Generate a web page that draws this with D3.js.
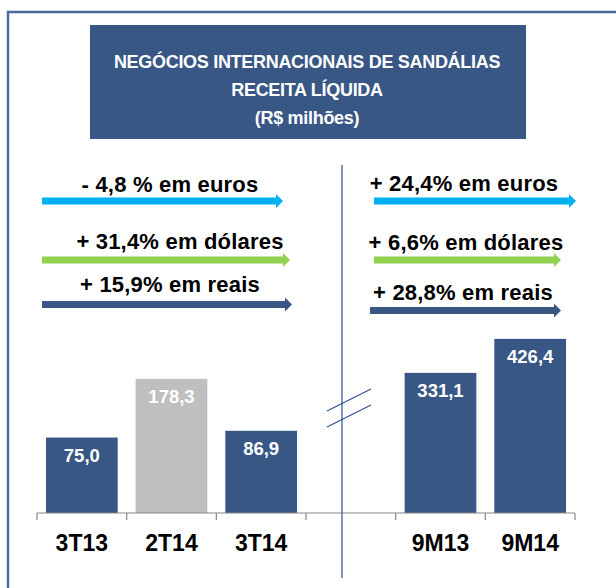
<!doctype html>
<html>
<head>
<meta charset="utf-8">
<script src="https://d3js.org/d3.v7.min.js"></script>
<style>
  body { margin: 0; background: #fff; }
  text { font-family: "Liberation Sans", Arial, sans-serif; font-weight: bold; }
</style>
</head>
<body>
<svg width="616" height="588" id="chart"></svg>
<script>
    // data
    var categories = ["3T13", "2T14", "3T14", "", "9M13", "9M14"];
    var quarterCats = ["3T13", "2T14", "3T14"];
    var quarterValues = [75.0, 178.3, 86.9];
    var ytdCats = ["9M13", "9M14"];
    var ytdValues = [331.1, 426.4];
    var titleLines = ["NEGÓCIOS INTERNACIONAIS DE SANDÁLIAS", "RECEITA LÍQUIDA", "(R$ milhões)"];
    var growthLeft = ["- 4,8 % em euros", "+ 31,4% em dólares", "+ 15,9% em reais"];
    var growthRight = ["+ 24,4% em euros", "+ 6,6% em dólares", "+ 28,8% em reais"];

    var navy = "#385785",
        grey = "#bfbfbf",
        arrowColors = ["#00b0f0", "#92d050", navy];

    var svg = d3.select("#chart");
    var baseY = 513;

    // frame
    svg.append("path")
       .attr("d", "M8,588 V12 H616")
       .attr("fill", "none")
       .attr("stroke", "#4a6a9c")
       .attr("stroke-width", 2.5);

    // title box
    svg.append("rect")
       .attr("x", 90).attr("y", 25)
       .attr("width", 436).attr("height", 114)
       .attr("fill", navy);

    svg.selectAll(".title")
       .data(titleLines)
       .enter().append("text")
       .attr("class", "title")
       .attr("x", 307)
       .attr("y", function(d, i) { return 68 + i * 28; })
       .attr("text-anchor", "middle")
       .attr("fill", "#fff")
       .attr("font-size", "18px")
       .attr("letter-spacing", "-0.3px")
       .text(function(d) { return d; });

    // growth arrows
    var leftLayout = [
        {x0: 42, x1: 283, ay: 201, tx: 170, ty: 191.5},
        {x0: 42, x1: 290, ay: 260, tx: 180, ty: 249},
        {x0: 42, x1: 292, ay: 304.5, tx: 170, ty: 292}
    ];
    var rightLayout = [
        {x0: 374, x1: 576, ay: 201, tx: 464, ty: 191},
        {x0: 374, x1: 561, ay: 260, tx: 466, ty: 249.5},
        {x0: 370, x1: 561, ay: 310.5, tx: 463, ty: 300}
    ];

    function arrowPath(d) {
        var h = 3.5, hh = 7, hl = 7;
        return "M" + d.x0 + "," + (d.ay - h) +
               " H" + (d.x1 - hl) + " V" + (d.ay - hh) +
               " L" + d.x1 + "," + d.ay +
               " L" + (d.x1 - hl) + "," + (d.ay + hh) +
               " V" + (d.ay + h) + " H" + d.x0 + " Z";
    }

    function drawGrowth(labels, layout) {
        var g = svg.append("g");
        g.selectAll("path")
         .data(layout)
         .enter().append("path")
         .attr("d", arrowPath)
         .attr("fill", function(d, i) { return arrowColors[i]; });
        g.selectAll("text")
         .data(labels)
         .enter().append("text")
         .attr("x", function(d, i) { return layout[i].tx; })
         .attr("y", function(d, i) { return layout[i].ty; })
         .attr("text-anchor", "middle")
         .attr("font-size", "22px")
         .attr("letter-spacing", "0.2px")
         .attr("fill", "#000")
         .text(function(d) { return d; });
    }
    drawGrowth(growthLeft, leftLayout);
    drawGrowth(growthRight, rightLayout);

    // scales
    var x = d3.scaleBand()
        .domain(categories)
        .range([37, 575])
        .paddingInner(0.2)
        .paddingOuter(0.1);

    // broken axis: each group has its own value scale
    var yLeft = d3.scaleLinear().domain([0, 200]).range([baseY - 32.8, baseY - 32.8 - 113.7]);
    var yRight = d3.scaleLinear().domain([0, 500]).range([baseY - 21.9, baseY - 21.9 - 178.5]);

    function drawBars(cats, vals, y) {
        var g = svg.append("g");
        g.selectAll("rect")
         .data(vals)
         .enter().append("rect")
         .attr("x", function(d, i) { return x(cats[i]); })
         .attr("y", function(d) { return y(d); })
         .attr("width", x.bandwidth())
         .attr("height", function(d) { return baseY - y(d); })
         .attr("fill", function(d, i) { return cats[i] === "2T14" ? grey : navy; });
        g.selectAll("text")
         .data(vals)
         .enter().append("text")
         .attr("x", function(d, i) { return x(cats[i]) + x.bandwidth() / 2; })
         .attr("y", function(d) { return y(d) + 24; })
         .attr("text-anchor", "middle")
         .attr("fill", "#fff")
         .attr("font-size", "18.5px")
         .text(function(d) { return d3.format(".1f")(d).replace(".", ","); });
    }
    drawBars(quarterCats, quarterValues, yLeft);
    drawBars(ytdCats, ytdValues, yRight);

    // x axis with ticks at band boundaries
    var axis = svg.append("g").attr("transform", "translate(0," + baseY + ")");
    axis.call(d3.axisBottom(x).tickSize(0).tickPadding(0))
        .select(".domain").remove();
    axis.selectAll("text")
        .attr("y", 38)
        .attr("dy", 0)
        .attr("font-size", "23px")
        .attr("font-family", "Liberation Sans, Arial, sans-serif")
        .attr("font-weight", "bold")
        .attr("fill", "#000");

    var step = x.step();
    var bounds = d3.range(categories.length + 1).map(function(i) { return x.range()[0] + i * step; });
    axis.append("line")
        .attr("x1", x.range()[0]).attr("x2", x.range()[1])
        .attr("y1", 0).attr("y2", 0)
        .attr("stroke", "#868686").attr("stroke-width", 1.2);
    axis.selectAll(".tk")
        .data(bounds)
        .enter().append("line")
        .attr("class", "tk")
        .attr("x1", function(d) { return d; }).attr("x2", function(d) { return d; })
        .attr("y1", 0).attr("y2", 7)
        .attr("stroke", "#868686").attr("stroke-width", 1.2);

    // divider and break marks
    svg.append("line")
       .attr("x1", 342).attr("x2", 342)
       .attr("y1", 165).attr("y2", 578)
       .attr("stroke", "#2f4f8f").attr("stroke-width", 1.2);
    [0, 16].forEach(function(off) {
        svg.append("line")
           .attr("x1", 327).attr("y1", 411 + off)
           .attr("x2", 371).attr("y2", 389 + off)
           .attr("stroke", "#2f4f8f").attr("stroke-width", 1.2);
    });
</script>
</body>
</html>
